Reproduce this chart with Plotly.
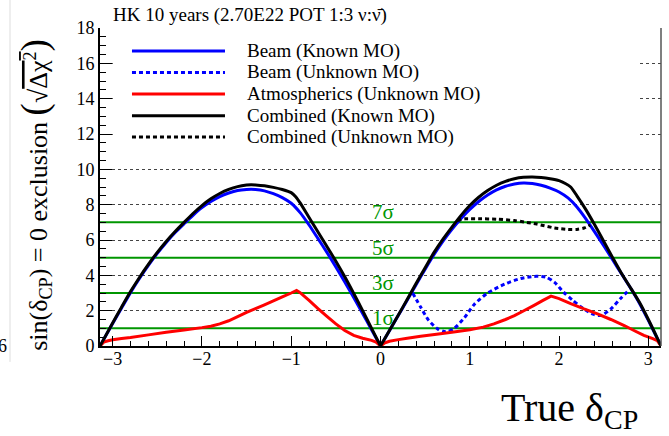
import plotly.graph_objects as go

PI = 3.14159265

# ---- curves: exclusion significance sqrt(dchi2) vs true delta_CP ----
beam_known_x = [-PI, -3.0, -2.9, -2.8, -2.7, -2.6, -2.5, -2.4, -2.3, -2.2, -2.1, -2.0, -1.9, -1.8,
                -1.7, -1.6, -1.5, -1.45, -1.4, -1.3, -1.2, -1.1, -1.0, -0.9, -0.8, -0.7, -0.6,
                -0.5, -0.4, -0.3, -0.2, -0.1, 0.0,
                0.1, 0.2, 0.3, 0.4, 0.5, 0.6, 0.7, 0.8, 0.9, 1.0, 1.1, 1.2, 1.3, 1.4, 1.5, 1.6,
                1.7, 1.8, 1.9, 2.0, 2.1, 2.2, 2.3, 2.4, 2.5, 2.6, 2.7, 2.8, 2.9, 3.0, 3.1, PI]
beam_known_y = [0.0, 1.27, 2.15, 3.02, 3.82, 4.56, 5.24, 5.86, 6.42, 6.92, 7.4, 7.83, 8.18, 8.46,
                8.66, 8.8, 8.86, 8.87, 8.86, 8.78, 8.62, 8.4, 8.08, 7.55, 6.85, 6.08, 5.3,
                4.48, 3.62, 2.74, 1.84, 0.92, 0.0,
                0.87, 1.74, 2.6, 3.48, 4.35, 5.18, 5.93, 6.6, 7.2, 7.73, 8.18, 8.55, 8.84, 9.04,
                9.17, 9.23, 9.2, 9.1, 8.94, 8.72, 8.38, 7.87, 7.2, 6.45, 5.68, 4.88, 4.08,
                3.28, 2.42, 1.45, 0.43, 0.0]

beam_unknown_x = [0.36, 0.45, 0.54, 0.64, 0.73, 0.82, 0.94, 1.05, 1.2, 1.39, 1.57, 1.72, 1.85,
                  1.95, 2.05, 2.15, 2.25, 2.38, 2.47, 2.58, 2.7, 2.79]
beam_unknown_y = [3.0, 2.2, 1.45, 0.97, 0.8, 0.97, 1.6, 2.35, 3.0, 3.5, 3.82, 3.94, 3.9,
                  3.6, 3.05, 2.6, 2.2, 1.8, 1.73, 2.1, 2.75, 3.2]

atm_x = [-PI, -3.1, -3.05, -3.0, -2.9, -2.8, -2.6, -2.4, -2.2, -2.0, -1.9, -1.8, -1.7, -1.6,
         -1.5, -1.4, -1.3, -1.2, -1.1, -1.0, -0.94, -0.9, -0.8, -0.7, -0.6, -0.5, -0.4, -0.3,
         -0.2, -0.1, -0.05, 0.0,
         0.05, 0.1, 0.2, 0.3, 0.45, 0.65, 0.82, 1.0, 1.15, 1.27, 1.4, 1.5, 1.6, 1.72, 1.82,
         1.91, 2.0, 2.13, 2.28, 2.43, 2.58, 2.73, 2.85, 2.95, 3.05, 3.1, PI]
atm_y = [0.0, 0.22, 0.3, 0.35, 0.42, 0.48, 0.63, 0.78, 0.91, 1.04, 1.12, 1.25, 1.43, 1.66,
         1.9, 2.12, 2.33, 2.55, 2.78, 3.0, 3.15, 3.02, 2.58, 2.12, 1.68, 1.25, 0.88, 0.6,
         0.44, 0.32, 0.22, 0.0,
         0.18, 0.27, 0.36, 0.44, 0.55, 0.68, 0.79, 0.92, 1.07, 1.25, 1.5, 1.72, 1.98, 2.3, 2.58,
         2.82, 2.68, 2.4, 2.1, 1.82, 1.5, 1.16, 0.85, 0.6, 0.42, 0.3, 0.0]

comb_known_x = [-PI, -3.0, -2.9, -2.8, -2.7, -2.6, -2.5, -2.4, -2.3, -2.2, -2.1, -2.0, -1.9, -1.8,
                -1.7, -1.6, -1.5, -1.45, -1.4, -1.3, -1.2, -1.1, -1.0, -0.95, -0.9, -0.8, -0.7,
                -0.6, -0.5, -0.4, -0.3, -0.2, -0.1, 0.0,
                0.1, 0.2, 0.3, 0.4, 0.5, 0.6, 0.7, 0.8, 0.9, 1.0, 1.1, 1.2, 1.3, 1.4, 1.5, 1.6,
                1.7, 1.8, 1.9, 2.0, 2.07, 2.13, 2.2, 2.3, 2.4, 2.5, 2.6, 2.7, 2.8, 2.9, 3.0, 3.1, PI]
comb_known_y = [0.0, 1.3, 2.2, 3.08, 3.88, 4.62, 5.3, 5.92, 6.48, 7.0, 7.5, 7.95, 8.33, 8.63,
                8.86, 9.02, 9.11, 9.13, 9.12, 9.07, 8.98, 8.86, 8.68, 8.45, 8.1, 7.27, 6.45,
                5.63, 4.8, 3.92, 2.98, 2.0, 1.0, 0.0,
                0.88, 1.76, 2.64, 3.55, 4.43, 5.3, 6.05, 6.73, 7.38, 7.95, 8.42, 8.8, 9.1, 9.32,
                9.47, 9.55, 9.57, 9.54, 9.47, 9.36, 9.2, 9.0, 8.5, 7.72, 6.85, 5.93, 5.0, 4.1,
                3.3, 2.47, 1.5, 0.45, 0.0]

comb_unknown_x = [0.86, 0.95, 1.1, 1.3, 1.5, 1.61, 1.75, 1.95, 2.1, 2.2, 2.28, 2.35]
comb_unknown_y = [7.1, 7.2, 7.2, 7.18, 7.1, 7.02, 6.9, 6.68, 6.6, 6.6, 6.68, 6.85]

sigma_levels = [1, 3, 5, 7]
sigma_labels = ["1σ", "3σ", "5σ", "7σ"]

legend_names = ["Beam (Known MO)", "Beam (Unknown MO)", "Atmospherics (Unknown MO)",
                "Combined (Known MO)", "Combined (Unknown MO)"]

SERIF = "Liberation Serif"
GREEN = "rgb(0,150,0)"
DOT = "4px,3px"


def split_at_cusp(xs, ys):
    """Break a curve into lobes at delta_CP = 0 so each lobe is smoothed on its own."""
    ox, oy = [], []
    for x, y in zip(xs, ys):
        ox.append(x)
        oy.append(y)
        if x == 0.0 and x != xs[0] and x != xs[-1]:
            ox += [None, x]
            oy += [None, y]
    return ox, oy


series = [
    (beam_known_x, beam_known_y, "blue", "solid", "spline"),
    (beam_unknown_x, beam_unknown_y, "blue", DOT, "spline"),
    (atm_x, atm_y, "red", "solid", "linear"),
    (comb_known_x, comb_known_y, "black", "solid", "spline"),
    (comb_unknown_x, comb_unknown_y, "black", DOT, "spline"),
]

fig = go.Figure()

# sigma reference lines
for lv in sigma_levels:
    fig.add_trace(go.Scatter(x=[-PI, PI], y=[lv, lv], mode="lines",
                             line=dict(color=GREEN, width=2), showlegend=False,
                             hoverinfo="skip"))

for (xs, ys, col, dash, shape), name in zip(series, legend_names):
    px, py = split_at_cusp(xs, ys)
    line = dict(color=col, width=3, dash=dash, shape=shape, simplify=False)
    if shape == "spline":
        line["smoothing"] = 0.7
    fig.add_trace(go.Scatter(x=px, y=py, mode="lines", name=name, line=line,
                             connectgaps=False, showlegend=False))

annotations = []
shapes = []

# sigma labels
for lv, lab in zip(sigma_levels, sigma_labels):
    annotations.append(dict(x=-0.115, y=lv, xref="x", yref="y", text=lab,
                            xanchor="left", yanchor="bottom", yshift=-4,
                            showarrow=False, font=dict(family=SERIF, size=21, color=GREEN)))

# hand-placed legend box (white fill hides the grid behind it)
shapes.append(dict(type="rect", xref="paper", yref="paper", x0=0.023, x1=0.962,
                   y0=0.61, y1=0.985, fillcolor="white", line=dict(width=0), layer="above"))
row_y = [0.9277, 0.8601, 0.7925, 0.7242, 0.6572]
for (xs, ys, col, dash, shape), name, ry in zip(series, legend_names, row_y):
    shapes.append(dict(type="line", xref="paper", yref="paper", x0=0.057, x1=0.2228,
                       y0=ry, y1=ry, line=dict(color=col, width=3, dash=dash), layer="above"))
    annotations.append(dict(x=0.2585, y=ry, xref="paper", yref="paper", text=name,
                            xanchor="left", yanchor="middle", showarrow=False,
                            font=dict(family=SERIF, size=19, color="black")))

# right frame edge
shapes.append(dict(type="line", xref="paper", yref="paper", x0=1, x1=1, y0=0, y1=1,
                   line=dict(color="#555555", width=1.5), layer="above"))
# faint edge at far left
shapes.append(dict(type="line", xref="paper", yref="paper", x0=-0.1604, x1=-0.1604,
                   y0=-0.05, y1=1.09, line=dict(color="#dddddd", width=1)))

# title
annotations.append(dict(x=0.02, y=1.0, xref="paper", yref="paper",
                        text="HK 10 years (2.70E22 POT 1:3 ν:ν̄)",
                        xanchor="left", yanchor="bottom", yshift=0, showarrow=False,
                        font=dict(family=SERIF, size=19, color="black")))

# axis titles
annotations.append(dict(x=0.9626, y=-0.2, xref="paper", yref="paper",
                        text="True δ<sub>CP</sub>", xanchor="right", yanchor="middle",
                        showarrow=False, font=dict(family=SERIF, size=40, color="black")))
annotations.append(dict(x=-0.116, y=0.475, xref="paper", yref="paper", textangle=-90,
                        text="sin(δ<sub>CP</sub>) = 0 exclusion "
                             "<span style='font-size:37px'>(</span>"
                             "√<span style='text-decoration:overline'>Δχ<sup>2</sup></span>"
                             "<span style='font-size:37px'>)</span>",
                        xanchor="center", yanchor="middle", showarrow=False,
                        font=dict(family=SERIF, size=26, color="black")))
annotations.append(dict(x=-0.174, y=0.0, xref="paper", yref="paper", text="6",
                        xanchor="center", yanchor="middle", showarrow=False,
                        font=dict(family=SERIF, size=18, color="black")))

fig.update_layout(
    width=669, height=436,
    margin=dict(l=100, r=8, t=28, b=90),
    paper_bgcolor="white", plot_bgcolor="white",
    showlegend=False,
    shapes=shapes, annotations=annotations,
    font=dict(family=SERIF, size=18, color="black"),
)

fig.update_xaxes(
    range=[-PI, PI], tickmode="array", tickvals=[-3, -2, -1, 0, 1, 2, 3],
    ticks="inside", ticklen=10, tickwidth=1, tickcolor="black",
    minor=dict(ticks="inside", ticklen=5, dtick=0.2, tick0=0, tickcolor="black", tickwidth=1),
    showline=True, linecolor="black", linewidth=2, showgrid=False, zeroline=False,
    tickfont=dict(family=SERIF, size=18, color="black"), ticklabelstandoff=-5,
)
fig.update_yaxes(
    range=[0, 18], dtick=2, tick0=0,
    ticks="inside", ticklen=12, tickwidth=1, tickcolor="black",
    minor=dict(ticks="inside", ticklen=6, dtick=0.5, tick0=0, tickcolor="black", tickwidth=1),
    showline=True, linecolor="black", linewidth=2,
    showgrid=True, gridcolor="#444444", gridwidth=1, griddash="dot", zeroline=False,
    tickfont=dict(family=SERIF, size=18, color="black"),
)

fig.write_html("out.html")
